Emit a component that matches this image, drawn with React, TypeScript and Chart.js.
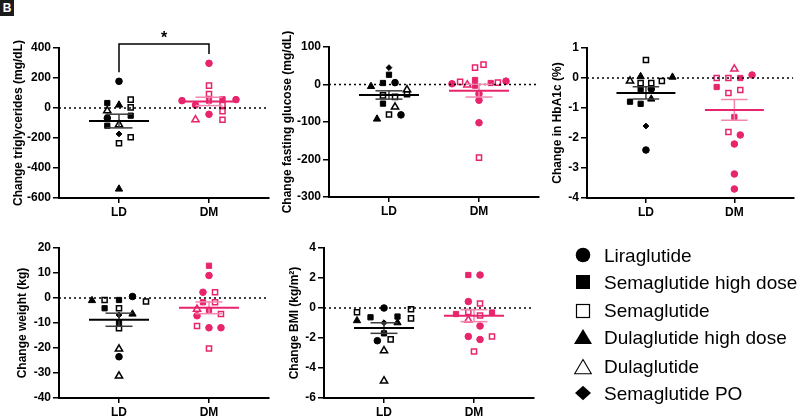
import React, { useEffect, useRef } from "react";
import { Chart, registerables } from "chart.js";
Chart.register(...registerables);

const W = 799;
const H = 417;
const FONT = "'Liberation Sans', Arial, Helvetica, sans-serif";
const BLACK = "#000000";
const GREY = "#3c3c3c";
const PINK = "#E8246C";
const PINK_LIGHT = "#F386AE";

const groups = ["LD", "DM"];
const drugs = ["Liraglutide", "Semaglutide high dose", "Semaglutide", "Dulaglutide high dose", "Dulaglutide", "Semaglutide PO"];

// each point: [change, jitter in category units, drug index]
const trigLD = [[178, 0, 0], [33, -0.13, 1], [20, 0, 3], [-18, -0.13, 4], [56, 0.13, 2], [4, 0.13, 2], [-51, 0.13, 1], [-67, -0.13, 0], [-118, -0.13, 1], [-111, 0, 4], [-173, 0, 5], [-195, 0.13, 2], [-235, 0, 2], [-540, 0, 3]];
const trigDM = [[298, 0, 0], [149, 0, 2], [93, 0, 2], [49, -0.3, 0], [56, 0.3, 0], [49, 0, 1], [58, 0.15, 1], [20, -0.15, 0], [20, 0.15, 2], [-22, 0.15, 2], [-78, 0.15, 2], [-42, 0, 0], [-78, -0.15, 4]];
const trigBracket = [238, 427, 360];
const trigStar = 432;

const gluLD = [[45, 0, 5], [26, 0, 1], [4, -0.067, 1], [5, 0.067, 0], [-5, -0.2, 3], [-14, 0.2, 4], [-26, 0.2, 2], [-29, -0.067, 2], [-33, 0.067, 2], [-51, -0.067, 1], [-60, 0.067, 4], [-80, 0, 2], [-81, 0.133, 0], [-92, -0.133, 3]];
const gluDM = [[53, 0.05, 2], [45, -0.044, 2], [2, -0.3, 0], [7, -0.21, 2], [-1, -0.13, 4], [12, -0.044, 1], [-3, -0.044, 1], [4, 0.13, 1], [5, 0.21, 2], [9, 0.3, 0], [-25, 0, 0], [-42, 0, 0], [-102, 0, 0], [-195, 0, 2]];

const a1cLD = [[0.6, 0, 2], [-0.1, -0.18, 4], [0.05, -0.06, 3], [0.03, 0.3, 3], [-0.1, 0.18, 2], [-0.17, -0.06, 2], [-0.17, 0.06, 2], [-0.37, -0.06, 1], [-0.37, 0.06, 0], [-0.7, 0.06, 3], [-0.79, -0.18, 1], [-0.86, -0.06, 1], [-1.6, 0, 5], [-2.4, 0, 0]];
const a1cDM = [[0.3, 0, 4], [0.1, 0.2, 0], [0, -0.2, 2], [0, -0.067, 2], [0, 0.067, 1], [-0.3, -0.2, 1], [-0.4, 0.067, 2], [-0.5, -0.067, 2], [-1.3, 0, 1], [-1.8, -0.067, 2], [-1.9, 0.067, 0], [-2.2, 0, 0], [-3.2, 0, 0], [-3.7, 0, 0]];

const wtLD = [[-1.0, -0.3, 3], [-0.8, -0.16, 2], [-0.8, 0, 1], [0.6, 0.15, 0], [-1.4, 0.3, 2], [-4.1, -0.16, 1], [-4.1, 0, 2], [-6.8, 0, 5], [-6.4, 0.15, 3], [-9.7, 0, 1], [-12.1, 0, 2], [-20.4, 0, 4], [-23.5, 0, 0], [-31.2, 0, 4]];
const wtDM = [[12.9, 0, 1], [9.0, 0, 0], [2.3, -0.067, 0], [2.3, 0.067, 2], [-1.7, -0.067, 1], [-1.7, 0.067, 2], [-4.5, -0.133, 4], [-4.8, 0, 1], [-6.4, 0.133, 2], [-7.1, -0.133, 0], [-11.2, -0.133, 2], [-11.9, 0, 0], [-11.9, 0.133, 0], [-20.2, 0, 2]];

const bmiLD = [[0, 0, 0], [-0.28, -0.3, 2], [-0.08, 0.3, 2], [-0.84, -0.3, 3], [-0.62, -0.15, 1], [-0.57, 0.15, 1], [-0.69, 0.3, 2], [-0.98, 0, 5], [-0.98, 0.15, 3], [-1.69, 0, 1], [-2.09, 0.074, 2], [-2.18, -0.074, 0], [-2.85, 0, 4], [-4.86, 0, 4]];
const bmiDM = [[2.2, -0.063, 1], [2.2, 0.067, 0], [0.43, -0.063, 0], [0.3, 0.067, 2], [-0.4, -0.2, 1], [-0.27, -0.063, 2], [-0.3, 0.2, 1], [-0.5, 0.067, 2], [-0.8, -0.063, 4], [-1.2, 0.067, 0], [-1.9, -0.063, 0], [-1.9, 0.2, 2], [-2.1, 0.067, 0], [-2.9, 0, 2]];

const STYLE = ["circle", "rect", "rect", "triangle", "triangle", "rectRot"];
const FILLED = [true, true, false, true, false, true];
const RADIUS = [3.3, 3.7, 3.6, 4.2, 4.2, 2.9];

const panels = [
  { title: "Change triglycerides (mg/dL)", min: -600, max: 400, step: 200, ld: trigLD, dm: trigDM, axisX: 59, top: 48, bottom: 198, titleX: 18.5, bracket: trigBracket, star: trigStar },
  { title: "Change fasting glucose (mg/dL)", min: -300, max: 100, step: 100, ld: gluLD, dm: gluDM, axisX: 329, top: 47, bottom: 197, titleX: 287.5 },
  { title: "Change in HbA1c (%)", min: -4, max: 1, step: 1, ld: a1cLD, dm: a1cDM, axisX: 587, top: 48, bottom: 198, titleX: 558 },
  { title: "Change weight (kg)", min: -40, max: 20, step: 10, ld: wtLD, dm: wtDM, axisX: 59, top: 248, bottom: 398, titleX: 23 },
  { title: "Change BMI (kg/m²)", min: -6, max: 4, step: 2, ld: bmiLD, dm: bmiDM, axisX: 324, top: 248, bottom: 398, titleX: 295 },
];

const mean = (a) => a.reduce((s, d) => s + d[0], 0) / a.length;
const sem = (a) => {
  const m = mean(a);
  const v = a.reduce((s, d) => s + (d[0] - m) * (d[0] - m), 0) / (a.length - 1);
  return Math.sqrt(v / a.length);
};

const starPlugin = {
  id: "star",
  afterDatasetsDraw(chart, _args, opts) {
    if (!opts || !opts.text) return;
    const { ctx } = chart;
    const x = chart.scales.x.getPixelForValue(opts.x);
    const y = chart.scales.y.getPixelForValue(opts.y);
    ctx.save();
    ctx.font = `bold 16px ${FONT}`;
    ctx.textAlign = "center";
    ctx.textBaseline = "alphabetic";
    ctx.fillStyle = BLACK;
    ctx.fillText(opts.text, x, y);
    ctx.restore();
  },
};

function makeConfig(p) {
  const yW = 50;
  const xH = 18;
  const xMin = 1 - 2 / 3;
  const xMax = 2 + 2 / 3;
  const lh = 12 * 1.2;
  const titlePad = yW - (p.axisX - p.titleX) - lh / 2;

  const pts = (arr, g, color) => ({
    data: arr.map((d) => ({ x: g + d[1], y: d[0] })),
    pointStyle: arr.map((d) => STYLE[d[2]]),
    pointRadius: arr.map((d) => RADIUS[d[2]]),
    backgroundColor: arr.map((d) => (FILLED[d[2]] ? color : "rgba(255,255,255,0)")),
    borderColor: color,
    borderWidth: arr.map((d) => (FILLED[d[2]] ? 1 : 1.5)),
    showLine: false,
    order: 5,
  });
  const seg = (data, color, width, order, dash = [], clip = true) => ({
    data,
    showLine: true,
    borderColor: color,
    backgroundColor: color,
    borderWidth: width,
    pointRadius: 0,
    borderDash: dash,
    order,
    clip: clip ? undefined : false,
  });
  const stats = (arr, g, mainColor, barColor) => {
    const m = mean(arr);
    const s = sem(arr);
    return [
      seg([{ x: g - 1 / 3, y: m }, { x: g + 1 / 3, y: m }], mainColor, 2, 1),
      seg([{ x: g - 0.15, y: m + s }, { x: g + 0.15, y: m + s }], barColor, 1.5, 2),
      seg([{ x: g - 0.15, y: m - s }, { x: g + 0.15, y: m - s }], barColor, 1.5, 2),
      seg([{ x: g, y: m - s }, { x: g, y: m + s }], barColor, 1.5, 2),
    ];
  };

  const datasets = [
    seg([{ x: xMin, y: 0 }, { x: xMax, y: 0 }], BLACK, 1.6, 3, [2, 3]),
    pts(p.ld, 1, BLACK),
    pts(p.dm, 2, PINK),
    ...stats(p.ld, 1, BLACK, GREY),
    ...stats(p.dm, 2, PINK, PINK_LIGHT),
  ];
  if (p.bracket) {
    datasets.push(
      seg(
        [{ x: 1, y: p.bracket[0] }, { x: 1, y: p.bracket[1] }, { x: 2, y: p.bracket[1] }, { x: 2, y: p.bracket[2] }],
        BLACK, 1.5, 0, [], false
      )
    );
  }

  const tickFont = { family: FONT, size: 12, weight: "bold" };
  return {
    type: "scatter",
    data: { datasets },
    plugins: [starPlugin],
    options: {
      animation: false,
      responsive: false,
      devicePixelRatio: 1,
      events: [],
      layout: {
        padding: { left: p.axisX - yW, right: W - (p.axisX + 210), top: p.top, bottom: H - p.bottom - xH },
      },
      plugins: {
        legend: { display: false },
        tooltip: { enabled: false },
        star: p.bracket ? { text: "*", x: 1.5, y: p.star } : {},
      },
      scales: {
        x: {
          type: "linear",
          min: xMin,
          max: xMax,
          afterFit: (s) => { s.height = xH; },
          afterBuildTicks: (s) => { s.ticks = [{ value: 1 }, { value: 2 }]; },
          ticks: { callback: (_v, i) => groups[i], color: BLACK, font: tickFont, padding: 2, autoSkip: false, maxRotation: 0 },
          grid: { drawOnChartArea: false, drawTicks: true, tickLength: 5, color: BLACK, lineWidth: 1.5 },
          border: { display: true, color: BLACK, width: 2 },
        },
        y: {
          type: "linear",
          min: p.min,
          max: p.max,
          afterFit: (s) => { s.width = yW; },
          ticks: { stepSize: p.step, color: BLACK, font: tickFont, padding: 2 },
          grid: { drawOnChartArea: false, drawTicks: true, tickLength: 6, color: BLACK, lineWidth: 1.5 },
          border: { display: true, color: BLACK, width: 2 },
          title: { display: true, text: p.title, color: BLACK, font: { family: FONT, size: 12, weight: "bold" }, padding: { top: titlePad, bottom: 0 } },
        },
      },
    },
  };
}

function Panel({ p }) {
  const ref = useRef(null);
  useEffect(() => {
    const chart = new Chart(ref.current, makeConfig(p));
    return () => chart.destroy();
  }, [p]);
  return <canvas ref={ref} width={W} height={H} style={{ position: "absolute", left: 0, top: 0 }} />;
}

const legendRows = [255, 282.3, 310.7, 337.3, 366.7, 393.3];

function Marker({ kind }) {
  const s = 20;
  const c = 10;
  let el = null;
  if (kind === 0) el = <circle cx={c} cy={c} r={7.3} fill={BLACK} />;
  if (kind === 1) el = <rect x={c - 7} y={c - 7} width={14} height={14} fill={BLACK} />;
  if (kind === 2) el = <rect x={c - 6.5} y={c - 6.5} width={13} height={13} fill="none" stroke={BLACK} strokeWidth={1.2} />;
  if (kind === 3) el = <polygon points={`${c},${c - 8} ${c + 9},${c + 7} ${c - 9},${c + 7}`} fill={BLACK} />;
  if (kind === 4) el = <polygon points={`${c},${c - 7.5} ${c + 8.3},${c + 6.8} ${c - 8.3},${c + 6.8}`} fill="none" stroke={BLACK} strokeWidth={1.1} />;
  if (kind === 5) el = <polygon points={`${c},${c - 7.3} ${c + 8},${c} ${c},${c + 7.3} ${c - 8},${c}`} fill={BLACK} />;
  return (
    <svg width={s} height={s} style={{ position: "absolute", left: 582.7 - c, top: legendRows[kind] - c }}>
      {el}
    </svg>
  );
}

export default function App() {
  return (
    <div style={{ position: "absolute", left: 0, top: 0, width: W, height: H, background: "#fff", overflow: "hidden" }}>
      <div style={{ position: "absolute", left: 0, top: 0, width: 14, height: 16, background: "#1b1b1b", color: "#fff", font: `bold 12px ${FONT}`, lineHeight: "16px", textAlign: "center" }}>B</div>
      {panels.map((p, i) => (
        <Panel key={i} p={p} />
      ))}
      {drugs.map((d, i) => (
        <React.Fragment key={d}>
          <Marker kind={i} />
          <div style={{ position: "absolute", left: 604, top: legendRows[i] - 10.5, font: `19px ${FONT}`, lineHeight: "21px", color: "#000", whiteSpace: "nowrap" }}>{d}</div>
        </React.Fragment>
      ))}
    </div>
  );
}
